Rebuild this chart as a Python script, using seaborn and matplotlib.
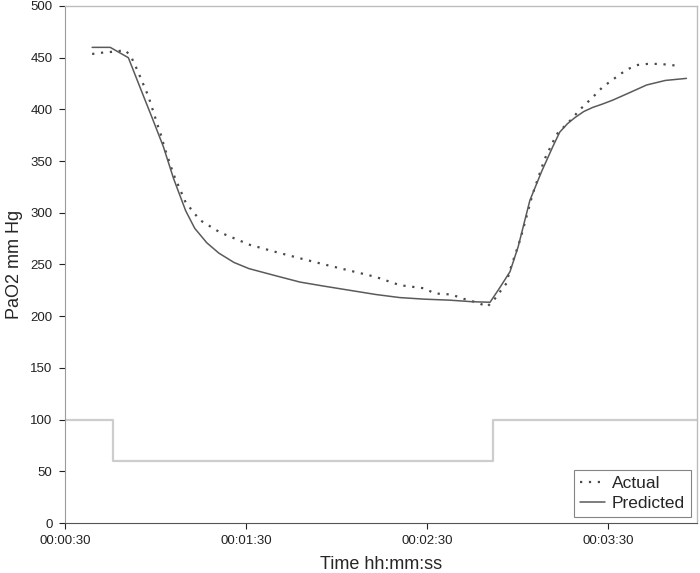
import numpy as np
import pandas as pd
import seaborn as sns
from matplotlib import pyplot as plt
from matplotlib.ticker import FuncFormatter

# time in seconds, PaO2 in mm Hg
actual_t = [39, 42.7, 47, 49.9, 51.8, 53.5, 54.9, 56.2, 57.6, 58.7, 59.8, 60.9, 62, 62.8,
            66, 70, 74.7, 81.4, 91.3, 100, 107.9, 116, 124.5, 133, 141, 149, 152.6, 158,
            163, 167, 169.9, 172.2, 174.2, 176.4, 177.2, 181, 185, 189, 193, 198.3, 200.4,
            202.9, 205.7, 208.2, 211, 214, 216.6, 219.9, 223.2, 227.2, 230.5, 233.9]
actual_v = [453.6, 455, 456, 457.4, 451.6, 441, 431.6, 422.6, 413, 403, 393, 383, 373.6, 364.6,
            337, 310, 293, 281, 269, 262, 256, 250, 244, 238, 230, 227, 222, 221,
            216, 213, 209, 215.7, 223.7, 232, 242, 275, 318, 352, 376, 391.7, 399,
            406, 414, 421.6, 427.5, 434, 439, 443, 444, 444, 443, 442]

pred_t = [39, 45, 51, 56, 59, 62.6, 66, 70, 73, 77, 81, 86, 91, 100, 107.9, 116, 124.5,
          133, 141, 149, 157.6, 165, 170.9, 174, 177.5, 180.2, 184.1, 188, 191.7, 194,
          196.5, 199, 202, 205, 208, 211.6, 217, 222.8, 229, 236]
pred_v = [460, 460, 450, 413, 391, 364, 333, 302, 285, 271, 261, 252, 246, 239, 233, 229, 225,
          221, 218, 216.5, 215.5, 214, 213.5, 227, 243, 267, 312, 340, 364, 378,
          386, 392, 398, 402, 405, 409, 416, 423.6, 428, 430]

# FiO2 step trace
step_t = [30, 45.8, 171.8, 239.5]
step_v = [100, 60, 100, 100]

x_ticks = [30, 90, 150, 210]
y_ticks = [0, 50, 100, 150, 200, 250, 300, 350, 400, 450, 500]

df_act = pd.DataFrame({'t': actual_t, 'v': actual_v})
df_pred = pd.DataFrame({'t': pred_t, 'v': pred_v})
df_step = pd.DataFrame({'t': step_t, 'v': step_v})

sns.set_style("ticks")
plt.rcParams['font.family'] = ['Liberation Sans', 'DejaVu Sans']

fig = plt.figure(figsize=(7, 5.73), dpi=100)
ax = fig.add_axes([65/700, 50/573, 632/700, 517/573])

sns.lineplot(data=df_step, x='t', y='v', drawstyle='steps-post', color='#cdcdcd',
             linewidth=1.6, ax=ax, label='_nolegend_')
sns.lineplot(data=df_act, x='t', y='v', color='#4a4a4a', linewidth=1.6,
             linestyle=(0, (1, 3)), ax=ax, label='Actual')
sns.lineplot(data=df_pred, x='t', y='v', color='#5a5a5a', linewidth=1.1,
             ax=ax, label='Predicted')

ax.set_xlim(30, 239.5)
ax.set_ylim(0, 500)
ax.set_xticks(x_ticks)
ax.set_yticks(y_ticks)
ax.xaxis.set_major_formatter(FuncFormatter(
    lambda s, _: f"{int(s)//3600:02d}:{int(s)%3600//60:02d}:{int(s)%60:02d}"))
ax.tick_params(labelsize=9.5, length=4, width=0.8, colors='#222222', pad=5)

ax.set_xlabel('Time hh:mm:ss', fontsize=13, labelpad=6)
ax.set_ylabel('PaO2 mm Hg', fontsize=13, labelpad=5)

for side in ['top', 'right']:
    ax.spines[side].set_visible(True)
    ax.spines[side].set_color('#bdbdbd')
    ax.spines[side].set_linewidth(1.0)
ax.spines['left'].set_color('#9a9a9a')
ax.spines['bottom'].set_color('#555555')

leg = ax.legend(loc='lower right', fontsize=12.5, frameon=True, fancybox=False,
                edgecolor='#666666', handlelength=1.4, handletextpad=0.4,
                borderpad=0.35, labelspacing=0.25, borderaxespad=0.35)
leg.get_frame().set_linewidth(0.8)

fig.savefig('out.png', dpi=100)
